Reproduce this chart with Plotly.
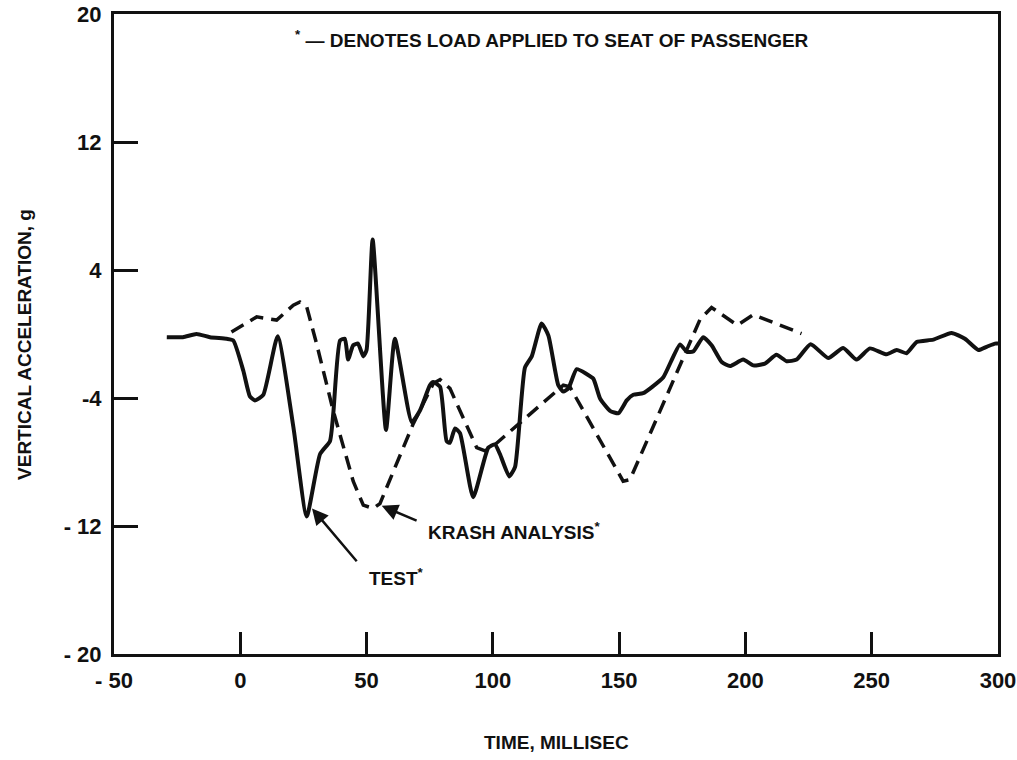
import plotly.graph_objects as go

# Time (ms) and vertical acceleration (g) of the seat-loaded test record
test_time = [-29.1, -22.7, -17.3, -12.0, -5.4, -2.8, 1.2, 3.8, 5.8, 9.1, 14.8, 21.0,
             26.3, 31.6, 35.5, 36.8, 39.5, 41.4, 42.7, 44.7, 46.6, 48.7, 50.0, 52.4,
             57.7, 61.2, 67.9, 71.1, 75.1, 76.4, 79.1, 81.7, 83.0, 85.0, 87.0, 92.2,
             98.2, 100.8, 102.8, 106.5, 108.8, 112.7, 115.4, 119.3, 122.0, 125.9, 127.9,
             129.9, 133.2, 137.1, 139.8, 142.5, 146.4, 149.7, 153.0, 155.6, 159.5, 163.1,
             167.5, 174.1, 176.7, 179.3, 183.3, 186.6, 190.6, 193.9, 199.1, 203.1, 207.7,
             212.3, 216.3, 220.3, 225.8, 232.8, 238.7, 244.0, 249.3, 255.9, 259.9, 263.8,
             267.8, 274.4, 281.6, 286.9, 292.2, 295.5, 298.8, 300.0]
test_accel = [-0.2, -0.2, 0.0, -0.2, -0.3, -0.4, -2.3, -3.9, -4.15, -3.8, -0.14, -5.8,
              -11.4, -7.5, -6.7, -5.0, -0.4, -0.3, -1.6, -0.7, -0.6, -1.4, -1.0, 5.9,
              -6.0, -0.3, -5.5, -4.8, -3.2, -3.0, -3.3, -6.7, -6.8, -5.9, -6.2, -10.2,
              -7.1, -6.9, -7.5, -8.9, -8.3, -2.1, -1.4, 0.66, -0.1, -3.2, -3.6,
              -3.4, -2.2, -2.5, -2.8, -4.05, -4.8, -4.95, -4.15, -3.8, -3.7, -3.3,
              -2.7, -0.65, -1.1, -1.1, -0.2, -0.7, -1.75, -2.0, -1.6, -1.96, -1.85,
              -1.3, -1.7, -1.6, -0.64, -1.5, -0.87, -1.6, -0.9, -1.27, -1.0, -1.2,
              -0.5, -0.35, 0.07, -0.3, -1.0, -0.8, -0.6, -0.6]

# KRASH analysis prediction
krash_time = [-3.5, 6.5, 14.4, 21.0, 23.6, 26.3, 30.2, 36.8, 44.7, 48.7, 52.6, 55.3,
              68.5, 76.4, 79.1, 83.0, 93.6, 96.9, 100.2, 127.9, 130.5, 151.6, 154.3,
              182.0, 186.6, 196.8, 203.1, 222.2]
krash_accel = [0.13, 1.07, 0.87, 1.8, 2.0, 1.7, -0.6, -4.8, -9.2, -10.7, -10.9, -10.6,
               -5.6, -3.1, -2.85, -3.4, -7.1, -7.3, -7.0, -3.2, -3.3, -9.2, -9.1,
               0.9, 1.66, 0.55, 1.2, 0.03]

x_ticks = [-50, 0, 50, 100, 150, 200, 250, 300]
x_tick_text = ["- 50", "0", "50", "100", "150", "200", "250", "300"]
y_ticks = [-20, -12, -4, 4, 12, 20]
y_tick_text = ["- 20", "- 12", "-4", "4", "12", "20"]

FONT = "Liberation Sans, Arial, sans-serif"
INK = "#111111"

fig = go.Figure()
fig.add_trace(go.Scatter(
    x=krash_time, y=krash_accel, mode="lines",
    line=dict(color=INK, width=3.5, dash="14px,8px"),
    hoverinfo="skip", showlegend=False,
))
fig.add_trace(go.Scatter(
    x=test_time, y=test_accel, mode="lines",
    line=dict(color=INK, width=4, shape="spline", smoothing=0.5),
    hoverinfo="skip", showlegend=False,
))

label_font = dict(family=FONT, size=19, color=INK, weight="bold")

# Pointer arrows and labels for each curve
fig.add_annotation(x=28.4, y=-10.9, ax=46.6, ay=-14.3, xref="x", yref="y",
                   axref="x", ayref="y", text="", showarrow=True,
                   arrowhead=2, arrowsize=1.3, arrowwidth=2.5, arrowcolor=INK)
fig.add_annotation(x=50.2, y=-15.2, xref="x", yref="y", text="TEST<sup>*</sup>",
                   showarrow=False, xanchor="left", yanchor="middle", font=label_font)
fig.add_annotation(x=56.0, y=-10.74, ax=70.4, ay=-11.7, xref="x", yref="y",
                   axref="x", ayref="y", text="", showarrow=True,
                   arrowhead=2, arrowsize=1.3, arrowwidth=2.5, arrowcolor=INK)
fig.add_annotation(x=73.5, y=-12.34, xref="x", yref="y", text="KRASH ANALYSIS<sup>*</sup>",
                   showarrow=False, xanchor="left", yanchor="middle", font=label_font)

# Footnote inside the frame
fig.add_annotation(x=0.203, y=0.961, xref="paper", yref="paper",
                   text="<sup>*</sup> \u2014 DENOTES LOAD APPLIED TO SEAT OF PASSENGER",
                   showarrow=False, xanchor="left", yanchor="middle", font=label_font)

# Axis titles
fig.add_annotation(x=0.501, y=-0.139, xref="paper", yref="paper", text="TIME, MILLISEC",
                   showarrow=False, xanchor="center", yanchor="middle", font=label_font)
fig.add_annotation(x=-0.101, y=0.484, xref="paper", yref="paper",
                   text="VERTICAL ACCELERATION, g", textangle=-90,
                   showarrow=False, xanchor="center", yanchor="middle", font=label_font)

tick_font = dict(family=FONT, size=22, color=INK, weight="bold")

fig.update_xaxes(
    range=[-50, 300], tickvals=x_ticks, ticktext=x_tick_text,
    ticks="inside", ticklen=22, tickwidth=2.5, tickcolor=INK,
    showline=True, linewidth=3, linecolor=INK, mirror=True,
    showgrid=False, zeroline=False, tickfont=tick_font, ticklabelstandoff=5,
    ticklabeloverflow="allow", automargin=False,
)
fig.update_yaxes(
    range=[-20, 20], tickvals=y_ticks, ticktext=y_tick_text,
    ticks="inside", ticklen=24, tickwidth=2.5, tickcolor=INK,
    showline=True, linewidth=3, linecolor=INK, mirror=True,
    showgrid=False, zeroline=False, tickfont=tick_font, ticklabelstandoff=5,
    ticklabeloverflow="allow", automargin=False,
)

fig.update_layout(
    width=1017, height=760,
    margin=dict(l=114, r=19, t=14, b=106),
    paper_bgcolor="white", plot_bgcolor="white",
    font=dict(family=FONT, color=INK),
)

fig.write_html("out.html")
